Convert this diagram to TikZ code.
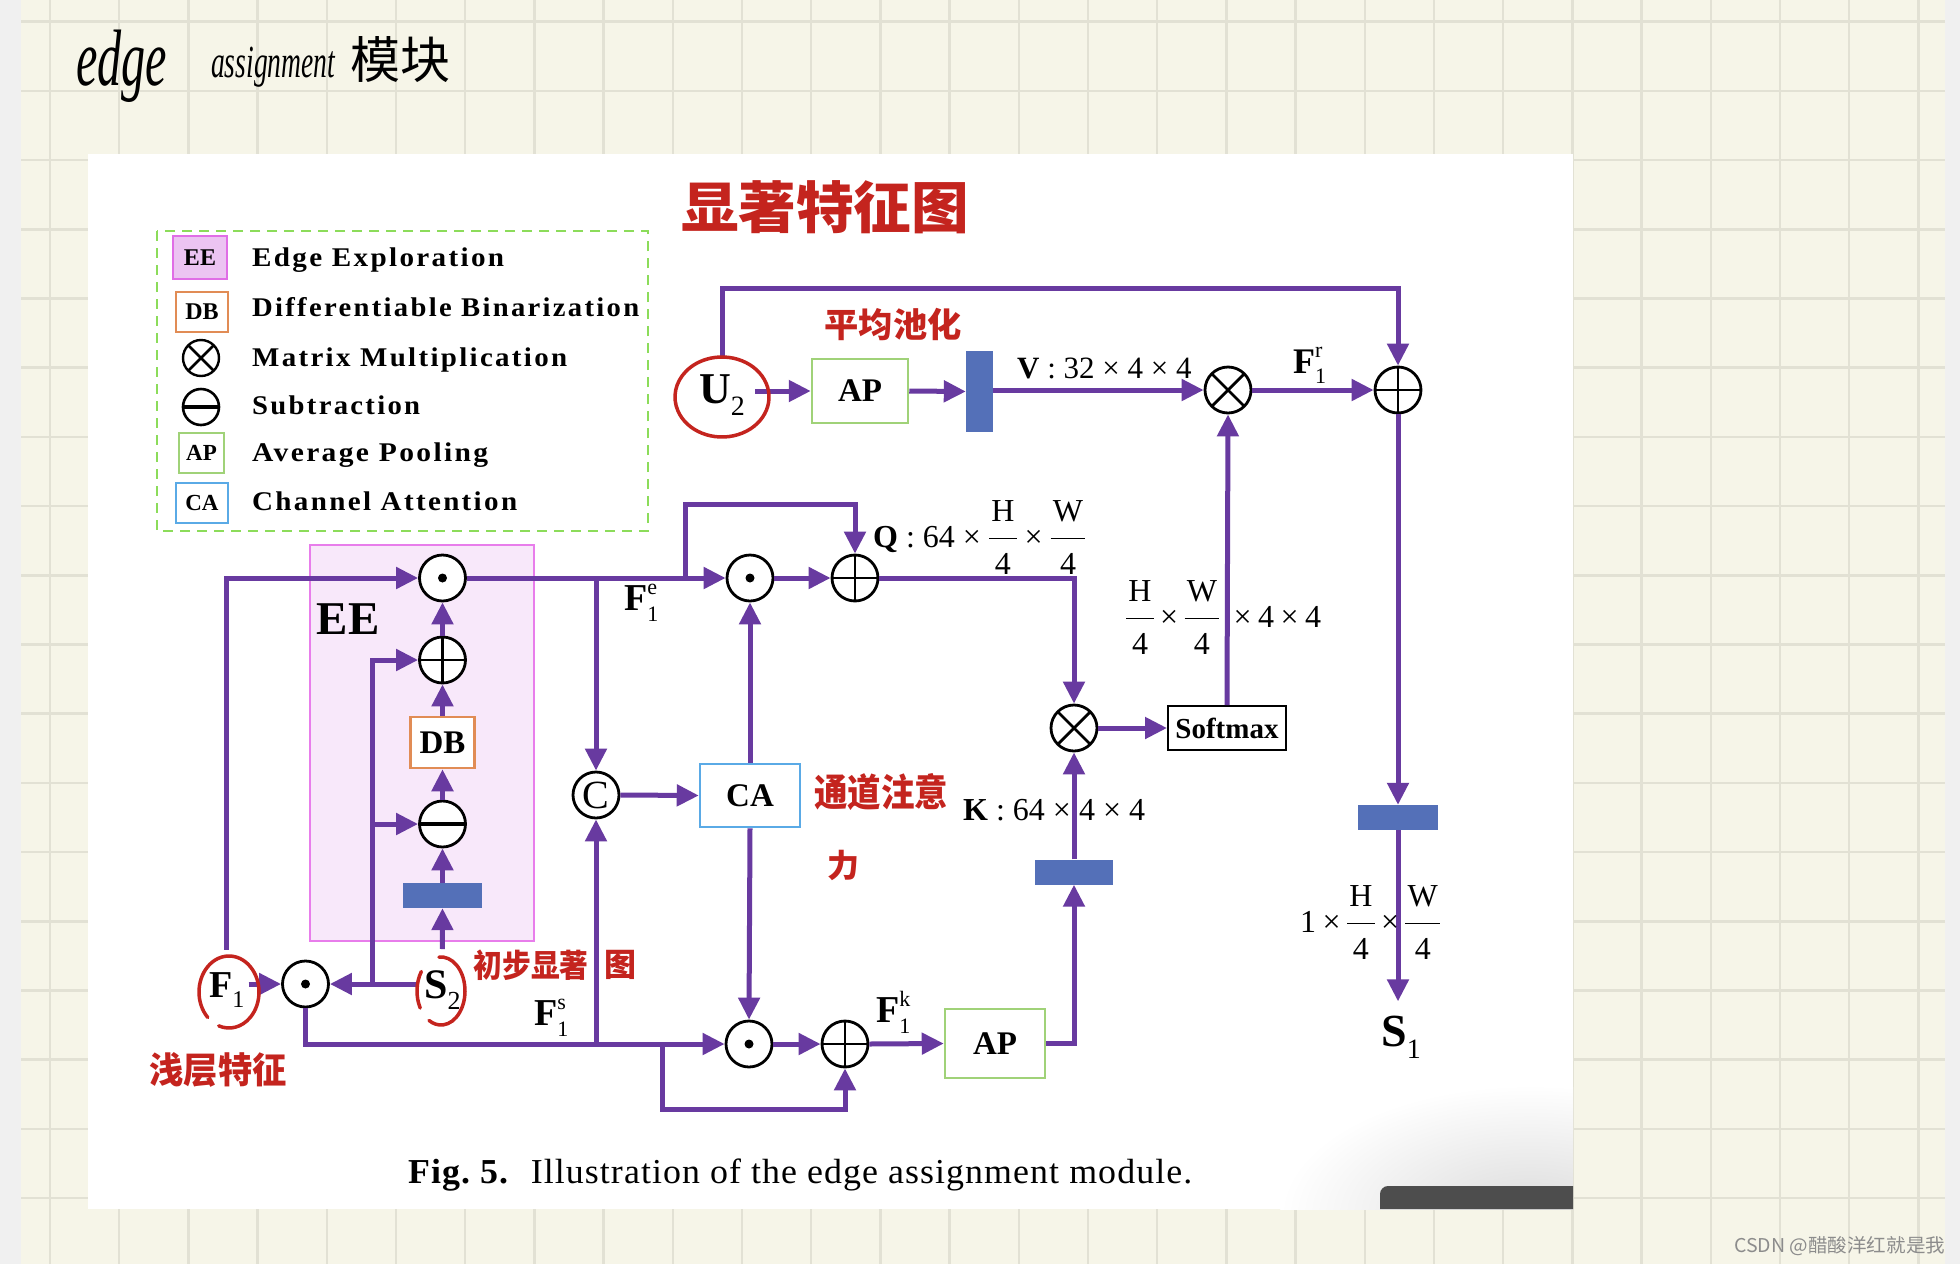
\documentclass[tikz,border=0pt]{standalone}
\usepackage{graphicx}
\usepackage{fontspec}
\setmainfont{Liberation Serif}
\newfontfamily\cjk{Noto Sans CJK SC}
\usetikzlibrary{arrows.meta}
\newcommand\fsz[1]{\fontsize{#1}{#1}\selectfont}
\newcommand\lgd[2]{\resizebox{#1pt}{\height}{\addfontfeatures{LetterSpace=8}#2}}
\newcommand\frc[2]{{\setlength\arrayrulewidth{1.8pt}\begin{tabular}{@{\hspace{0.07em}}c@{\hspace{0.07em}}}#1\\[0.2em]\hline\rule{0pt}{1.1em}#2\end{tabular}}}
\newcommand\tms{\hspace{0.2em}×\hspace{0.2em}}
\newcommand\BS[3]{\textbf{#1}\raisebox{-0.28em}{\fsz{#3}#2}}
\newcommand\FF[1]{\textbf{F}\makebox[0pt][l]{\raisebox{0.42em}{\fsz{22}#1}}\raisebox{-0.3em}{\fsz{22}1}}
\definecolor{purp}{RGB}{104,58,160}
\definecolor{barblue}{RGB}{84,112,184}
\definecolor{apgreen}{RGB}{160,210,120}
\definecolor{dborange}{RGB}{225,140,85}
\definecolor{cablue}{RGB}{90,170,230}
\definecolor{eefill}{RGB}{248,232,250}
\definecolor{eedraw}{RGB}{232,125,235}
\definecolor{eelegfill}{RGB}{236,196,242}
\definecolor{eelegdraw}{RGB}{224,110,230}
\definecolor{legdash}{RGB}{140,220,90}
\definecolor{cream}{RGB}{246,245,232}
\definecolor{gridc}{RGB}{226,225,212}
\definecolor{sidegray}{RGB}{240,240,240}
\definecolor{darkbar}{RGB}{77,77,77}
\definecolor{hred}{RGB}{196,36,30}
\definecolor{wmgray}{RGB}{140,140,140}
\begin{document}
\begin{tikzpicture}[x=1pt,y=-1pt,
  pl/.style={draw=purp, line width=5pt},
  arr/.style={pl, -{Triangle[length=22pt,width=21pt]}},
  opc/.style={circle, draw=black, line width=2.8pt, minimum size=46pt, inner sep=0pt, fill=white},
  odot/.style={opc, path picture={\fill[black] (path picture bounding box.center) circle (4.5pt);}},
  oplus/.style={opc, path picture={\draw[line width=2.8pt] (path picture bounding box.north) -- (path picture bounding box.south) (path picture bounding box.west) -- (path picture bounding box.east);}},
  otimes/.style={opc, path picture={\draw[line width=2.8pt] (path picture bounding box.north west) -- (path picture bounding box.south east) (path picture bounding box.north east) -- (path picture bounding box.south west);}},
  ominus/.style={opc, path picture={\draw[line width=3.2pt] (path picture bounding box.west) -- (path picture bounding box.east);}},
  ocat/.style={opc, font=\fsz{40}},
  bluebar/.style={fill=barblue, draw=none, inner sep=0pt},
  boxlab/.style={fill=white, line width=2.5pt, inner sep=0pt, font=\fsz{33}\bfseries},
  apbox/.style={boxlab, draw=apgreen, minimum width=96pt, minimum height=64pt},
  dbbox/.style={boxlab, draw=dborange, minimum width=64pt, minimum height=51pt},
  cabox/.style={boxlab, draw=cablue, minimum width=100pt, minimum height=63pt},
  smbox/.style={fill=white, draw=black, line width=2pt, inner sep=0pt, minimum width=118pt, minimum height=44pt, font=\fsz{29}\bfseries},
  txt/.style={inner sep=2pt, anchor=base west},
  lab/.style={inner sep=0pt, font=\fsz{32}},
  legtxt/.style={anchor=base west, inner sep=0pt, font=\fsz{27}\bfseries},
  legbox/.style={line width=2.5pt, inner sep=0pt, font=\fsz{23}\bfseries},
  redtxt/.style={text=hred, inner sep=0pt, font=\cjk\bfseries},
  redc/.style={draw=hred, line width=3.5pt, line cap=round}]
\useasboundingbox (0,0) rectangle (1960,1264);
% page background
\fill[sidegray] (0,0) rectangle (1960,1264);
\fill[cream] (21,0) rectangle (1945,1264);
\foreach \i in {0,...,27} \draw[gridc, line width=2.5pt] ({50+69.2*\i},0) -- ({50+69.2*\i},1264);
\foreach \j in {0,...,17} \draw[gridc, line width=2.5pt] (21,{21.7+69.2*\j}) -- (1945,{21.7+69.2*\j});
\fill[white] (88,154) rectangle (1573,1209);
\begin{scope}
  \clip (88,154) rectangle (1573,1209);
  \shade[inner color=black!14, outer color=white] (1530,1215) ellipse (250 and 130);
\end{scope}
\fill[darkbar] (1380,1209) -- (1380,1194) arc[start angle=180, end angle=270, radius=8] -- (1573,1186) -- (1573,1209) -- cycle;

% handwritten title
\node[anchor=base west, inner sep=0pt, font=\fsz{80}\itshape] (hw1) at (76,85) {\resizebox{91pt}{\height}{edge}};
\node[anchor=base west, inner sep=0pt, font=\fsz{46}\itshape] (hw2) at (211,77) {\resizebox{124pt}{\height}{assignment}};
\node[anchor=base west, inner sep=0pt, font=\cjk\fsz{50}] (hw3) at (350,78) {模块};

% legend
\draw[legdash, line width=2.5pt, dash pattern=on 10pt off 7pt] (157,231) rectangle (648,531);
\node[legbox, draw=eelegdraw, fill=eelegfill, minimum width=54pt, minimum height=43pt, font=\fsz{24}\bfseries] (lee) at (200,257.5) {EE};
\node[legbox, draw=dborange, fill=white, minimum width=52pt, minimum height=40pt, font=\fsz{24}\bfseries] (ldb) at (202,312) {DB};
\node[otimes, minimum size=36pt, line width=2.4pt] (lmm) at (201,358) {};
\node[ominus, minimum size=36pt, line width=2.6pt] (lsub) at (201,407) {};
\node[legbox, draw=apgreen, fill=white, minimum width=45pt, minimum height=40pt] (lap) at (201.5,453) {AP};
\node[legbox, draw=cablue, fill=white, minimum width=52pt, minimum height=40pt] (lca) at (202,503) {CA};
\node[legtxt] (t1) at (252,266.7) {\lgd{252}{Edge Exploration}};
\node[legtxt] (t2) at (252,316.7) {\lgd{387}{Differentiable Binarization}};
\node[legtxt] (t3) at (252,366) {\lgd{315}{Matrix Multiplication}};
\node[legtxt] (t4) at (252,414) {\lgd{168}{Subtraction}};
\node[legtxt] (t5) at (252,461.7) {\lgd{236}{Average Pooling}};
\node[legtxt] (t6) at (252,510) {\lgd{265}{Channel Attention}};

% EE region
\filldraw[fill=eefill, draw=eedraw, line width=2.5pt] (310,545) rectangle (534,941);
\node[inner sep=0pt, font=\fsz{47}\bfseries] (eelab) at (348,619) {EE};

% nodes
\node[odot] (oee) at (442.5,578) {};
\node[oplus] (opee) at (442.5,660) {};
\node[dbbox] (db) at (442.5,742.5) {DB};
\node[ominus] (omee) at (442.5,824) {};
\node[bluebar, minimum width=79pt, minimum height=25pt] (bare) at (442.5,895.5) {};
\node[txt, font=\fsz{38}] (f1) at (207,997) {\BS{F}{1}{24}};
\node[odot] (ofs) at (305.5,984) {};
\node[txt, font=\fsz{42}] (s2) at (422,998) {\BS{S}{2}{26}};
\coordinate (fd) at (372,984);
\node[ocat] (oc) at (596,795) {C};
\node[cabox] (ca) at (750,795.5) {CA};
\node[odot] (odq) at (750,578) {};
\node[oplus] (opq) at (855,578) {};
\coordinate (ql) at (685,504);
\node[odot] (odb) at (749,1044) {};
\node[oplus] (opb) at (845,1044) {};
\coordinate (bl) at (662,1109);
\node[apbox, minimum width=100pt, minimum height=69pt] (ap2) at (995,1043.5) {AP};
\node[bluebar, minimum width=78pt, minimum height=25pt] (bark) at (1074,872) {};
\node[otimes] (ot2) at (1074,728) {};
\node[smbox] (sm) at (1227,728) {Softmax};
\node[txt, font=\fsz{44}] (u2) at (697,403) {\BS{U}{2}{28}};
\node[apbox] (ap1) at (860,391) {AP};
\node[bluebar, minimum width=27pt, minimum height=81pt] (bar1) at (979.5,391.5) {};
\node[otimes] (ot1) at (1228,390) {};
\node[oplus] (op1) at (1398,390) {};
\coordinate (tl) at (721,288);
\node[bluebar, minimum width=80pt, minimum height=25pt] (bar2) at (1398,817.5) {};
\node[txt, font=\fsz{46}] (s1) at (1379,1046) {\BS{S}{1}{28}};

% connectors
\draw[arr] ([xshift=8pt]u2.east |- ap1.west) -- (ap1.west);
\draw[arr] (ap1.east) -- (bar1.west);
\draw[arr] (bar1.east |- ot1.west) -- (ot1.west);
\draw[arr] (ot1.east) -- (op1.west);
\draw[arr] ([yshift=14pt]u2.north) -- (u2.north |- tl) -| (op1.north);
\draw[arr] (op1.south) -- (bar2.north);
\draw[arr] (bar2.south) -- ([yshift=12pt]s1.north -| bar2.south);
\draw[arr] (sm.north) -- (ot1.south);
\draw[arr] (ot2.east) -- (sm.west);
\draw[arr] (opq.east) -| (ot2.north);
\draw[arr] (bark.north) -- (ot2.south);
\draw[arr] (ap2.east) -| (bark.south);
\draw[arr] (odq.east) -- (opq.west);
\draw[arr] (oee.east) -- (odq.west);
\draw[arr] (oee.east -| oc.north) -- (oc.north);
\draw[arr] (ql |- oee.east) -- (ql) -| (opq.north);
\draw[arr] (oc.east) -- (ca.west);
\draw[arr] (ca.north) -- (odq.south);
\draw[arr] (ca.south) -- (odb.north);
\draw[arr] (odb.east) -- (opb.west);
\draw[arr] (opb.east) -- (ap2.west);
\draw[arr] (bl |- odb.west) -- (bl) -| (opb.south);
\draw[arr] (ofs.south) |- (odb.west);
\draw[arr] (oc.south |- odb.west) -- (oc.south);
\draw[arr] ([xshift=2pt]f1.east |- ofs.west) -- (ofs.west);
\draw[arr] ([yshift=20pt]f1.north) |- (oee.west);
\draw[arr] ([xshift=-4pt]s2.west |- ofs.east) -- (ofs.east);
\draw[arr] (fd) |- (opee.west);
\draw[arr] (fd |- omee.west) -- (omee.west);
\draw[arr] ([yshift=19pt]s2.north) -- (bare.south);
\draw[arr] (bare.north) -- (omee.south);
\draw[arr] (omee.north) -- (db.south);
\draw[arr] (db.north) -- (opee.south);
\draw[arr] (opee.north) -- (oee.south);

% labels
\node[lab, anchor=base west, font=\fsz{38}] (fe) at (624,610) {\FF{e}};
\node[lab, anchor=base west, font=\fsz{38}] (fs) at (534,1025) {\FF{s}};
\node[lab, anchor=base west, font=\fsz{38}] (fk) at (876,1022) {\FF{k}};
\node[lab, anchor=base west, font=\fsz{36}] (fr) at (1293,373) {\FF{r}};
\node[lab, anchor=base west, font=\fsz{31}] (vlab) at (1017,378) {\textbf{V} : 32 × 4 × 4};
\node[lab, anchor=west] (qlab) at (873,541.6) {\textbf{Q} : 64 × \frc{H}{4} × \frc{W}{4}};
\node[lab, anchor=base west] (klab) at (963,820) {\textbf{K} : 64 × 4 × 4};
\node[lab, anchor=west] (hwlab) at (1126,621.6) {\frc{H}{4}\tms\frc{W}{4}\hspace{0.45em}×\hspace{0.2em}4\tms 4};
\node[lab, anchor=west] (slab) at (1300,926.6) {1\tms\frc{H}{4}\tms\frc{W}{4}};

% caption
\node[anchor=base west, inner sep=0pt, font=\fsz{35}] (cap) at (408,1183) {\resizebox{784pt}{\height}{\addfontfeatures{LetterSpace=3}\textbf{Fig.~5.}\hspace{0.6em}Illustration of the edge assignment module.}};

% red annotations
\node[redtxt, font=\cjk\bfseries\fsz{56}] (r1) at (825,207) {\resizebox{288pt}{\height}{显著特征图}};
\node[redtxt, font=\cjk\bfseries\fsz{34}] (r2) at (893,325) {\resizebox{137pt}{\height}{平均池化}};
\node[redtxt, font=\cjk\bfseries\fsz{38}] (r3) at (881,792) {\resizebox{134pt}{\height}{通道注意}};
\node[redtxt, font=\cjk\bfseries\fsz{32}] (r4) at (843,865) {力};
\node[redtxt, font=\cjk\bfseries\fsz{32}] (r5) at (531,965) {\resizebox{115pt}{\height}{初步显著}};
\node[redtxt, font=\cjk\bfseries\fsz{32}] (r6) at (620,965) {图};
\node[redtxt, font=\cjk\bfseries\fsz{36}] (r7) at (218,1070) {\resizebox{137pt}{\height}{浅层特征}};
\draw[redc] (722,397) ++(250:47 and 40) arc[start angle=250, end angle=615, x radius=47, y radius=40];
\draw[redc] (229,992) ++(135:30 and 36) arc[start angle=135, end angle=470, x radius=30, y radius=36];
\draw[redc] (441,991) ++(150:24 and 34) arc[start angle=150, end angle=215, x radius=24, y radius=34];
\draw[redc] (441,991) ++(265:24 and 34) arc[start angle=265, end angle=480, x radius=24, y radius=34];

% watermark
\node[anchor=base west, inner sep=0pt, text=wmgray, font=\cjk\fsz{19}] (wm) at (1734,1252) {\resizebox{211pt}{\height}{CSDN @醋酸洋红就是我}};
\end{tikzpicture}
\end{document}
